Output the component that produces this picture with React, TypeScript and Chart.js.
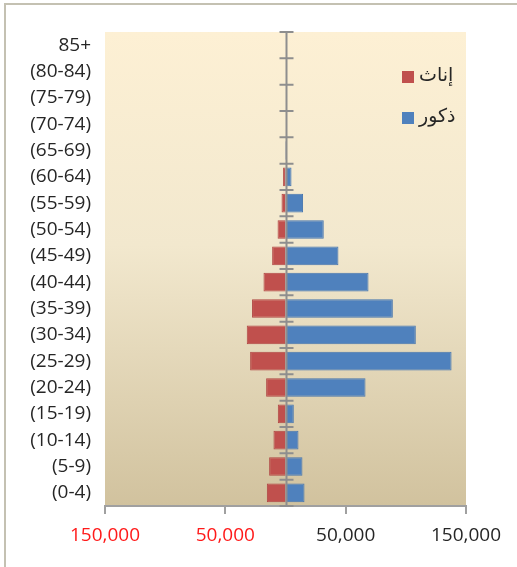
import React, { useEffect, useRef } from "react";
import { Chart, registerables } from "chart.js";

Chart.register(...registerables);

// Age groups, youngest first (drawn bottom-up)
const ageGroups = [
  "(0-4)", "(5-9)", "(10-14)", "(15-19)", "(20-24)", "(25-29)",
  "(30-34)", "(35-39)", "(40-44)", "(45-49)", "(50-54)", "(55-59)",
  "(60-64)", "(65-69)", "(70-74)", "(75-79)", "(80-84)", "85+",
];

// Population counts per age group
const males = [
  15800, 14100, 10800, 6900, 66500, 138000, 108300, 89200, 69000,
  44000, 31800, 14600, 5000, 1000, 0, 0, 0, 0,
];
const females = [
  15500, 13600, 10000, 6400, 16100, 29400, 32200, 27800, 18300,
  11100, 6600, 3300, 2000, 200, 0, 0, 0, 0,
];

const femaleLabel = "إناث";
const maleLabel = "ذكور";

// Axis ticks (left side shown as absolute values)
const xTicks = [-150000, -50000, 50000, 150000];

const RED = "#C0504D";
const BLUE = "#4F81BD";
const AXIS_GRAY = "#A0A0A0";
const TEXT = "#262626";
const LABEL_FONT = '"Open Sans", sans-serif';

const plotBackground = {
  id: "plotBackground",
  beforeDraw(chart: any) {
    const { ctx, chartArea } = chart;
    const { left, top, right, bottom } = chartArea;
    const g = ctx.createLinearGradient(0, top, 0, bottom);
    g.addColorStop(0, "#FDF0D4");
    g.addColorStop(0.45, "#F2E8CE");
    g.addColorStop(1, "#D1C29E");
    ctx.save();
    ctx.fillStyle = g;
    ctx.fillRect(left, top, right - left, bottom - top);
    ctx.restore();
  },
};

const centerAxis = {
  id: "centerAxis",
  afterDatasetsDraw(chart: any) {
    const { ctx, chartArea, scales } = chart;
    const x0 = Math.round(scales.x.getPixelForValue(0)) + 0.5;
    const n = ageGroups.length;
    const step = (chartArea.bottom - chartArea.top) / n;
    ctx.save();
    ctx.strokeStyle = "#8E8E8E";
    ctx.lineWidth = 2;
    ctx.beginPath();
    ctx.moveTo(x0, chartArea.top);
    ctx.lineTo(x0, chartArea.bottom);
    for (let i = 0; i <= n; i++) {
      const y = chartArea.top + i * step;
      ctx.moveTo(x0 - 7, y);
      ctx.lineTo(x0 + 7, y);
    }
    ctx.stroke();
    ctx.restore();
  },
};

const insideLegend = {
  id: "insideLegend",
  afterDraw(chart: any) {
    const { ctx } = chart;
    const items = [
      { label: chart.data.datasets[0].label, color: RED, y: 71 },
      { label: chart.data.datasets[1].label, color: BLUE, y: 112 },
    ];
    ctx.save();
    ctx.font = '19px "DejaVu Sans", sans-serif';
    ctx.textBaseline = "middle";
    ctx.textAlign = "left";
    for (const it of items) {
      ctx.fillStyle = it.color;
      ctx.fillRect(402, it.y, 12, 12);
      ctx.fillStyle = TEXT;
      ctx.fillText(it.label, 419, it.y + 5);
    }
    ctx.restore();
  },
};

export default function App() {
  const canvasRef = useRef<HTMLCanvasElement | null>(null);

  useEffect(() => {
    if (!canvasRef.current) return;
    const chart = new Chart(canvasRef.current, {
      type: "bar",
      data: {
        labels: ageGroups,
        datasets: [
          {
            label: femaleLabel,
            data: females.map((v) => -v),
            backgroundColor: RED,
            borderColor: "#B04643",
            borderWidth: 1,
          },
          {
            label: maleLabel,
            data: males,
            backgroundColor: BLUE,
            borderColor: "#4675AE",
            borderWidth: 1,
          },
        ],
      },
      options: {
        indexAxis: "y",
        animation: false,
        responsive: false,
        layout: { padding: { top: 32, right: 51, bottom: 0, left: 0 } },
        datasets: {
          bar: { categoryPercentage: 0.71, barPercentage: 1 },
        },
        plugins: {
          legend: { display: false },
          tooltip: { enabled: false },
        },
        scales: {
          x: {
            stacked: true,
            min: -150000,
            max: 150000,
            afterBuildTicks(scale: any) {
              scale.ticks = xTicks.map((v) => ({ value: v }));
            },
            afterFit(scale: any) {
              scale.height = 61;
            },
            grid: {
              drawOnChartArea: false,
              drawTicks: true,
              tickLength: 8,
              color: AXIS_GRAY,
              lineWidth: 2,
            },
            border: { display: true, color: AXIS_GRAY, width: 2 },
            ticks: {
              padding: 10,
              maxRotation: 0,
              autoSkip: false,
              font: { family: LABEL_FONT, size: 19 },
              color: (c: any) => (c.tick && c.tick.value < 0 ? "#FF1A1A" : TEXT),
              callback: (v: any) => Math.abs(Number(v)).toLocaleString("en-US"),
            },
          },
          y: {
            stacked: true,
            reverse: true,
            afterFit(scale: any) {
              scale.width = 105;
            },
            grid: { display: false, drawTicks: false },
            border: { display: false },
            ticks: {
              padding: 14,
              autoSkip: false,
              font: { family: LABEL_FONT, size: 19 },
              color: TEXT,
            },
          },
        },
      },
      plugins: [plotBackground, centerAxis, insideLegend],
    });
    return () => chart.destroy();
  }, []);

  return (
    <div
      style={{
        position: "fixed",
        left: 0,
        top: 0,
        width: 517,
        height: 567,
        background: "#FFFFFF",
        overflow: "hidden",
      }}
    >
      <div
        style={{
          position: "absolute",
          left: 4,
          top: 3,
          width: 700,
          height: 800,
          borderLeft: "2px solid #C4C1B2",
          borderTop: "2px solid #C4C1B2",
        }}
      />
      <canvas
        ref={canvasRef}
        width={517}
        height={567}
        style={{ position: "absolute", left: 0, top: 0 }}
      />
    </div>
  );
}
